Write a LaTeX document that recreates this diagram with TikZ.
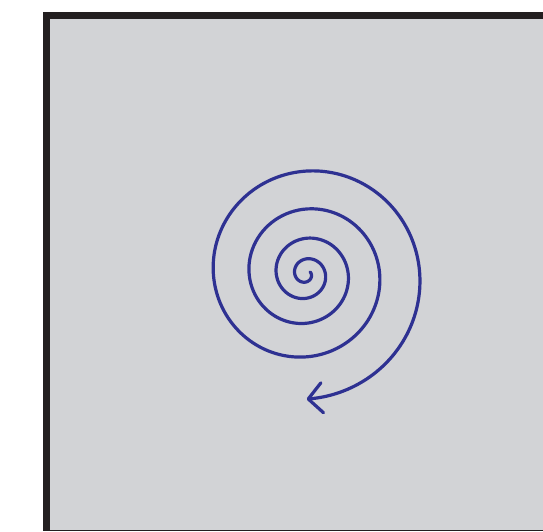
\documentclass[tikz,border=0pt]{standalone}
\usetikzlibrary{arrows.meta}
\definecolor{framedark}{HTML}{231F20}
\definecolor{panelgray}{HTML}{D2D3D6}
\definecolor{spiralblue}{HTML}{2E3192}
\begin{document}
\begin{tikzpicture}[x=1pt,y=-1pt,
  spiralline/.style={draw=spiralblue,line width=3.2pt,line cap=round,line join=round}]
\useasboundingbox (0,0) rectangle (543,531);
\fill[framedark] (43,12) rectangle (543,531);
\fill[panelgray] (50,19) rectangle (543,530);
\draw[spiralline,-{Straight Barb[length=14pt,width=30pt,line width=3.2pt,round]}]
  plot[domain=-1.3:16,samples=400,variable=\k,smooth]
  ({306+(8+3*\k+0.27*\k*\k)*cos(-90-90*\k)},{274-(8+3*\k+0.27*\k*\k)*sin(-90-90*\k)});
\end{tikzpicture}
\end{document}
